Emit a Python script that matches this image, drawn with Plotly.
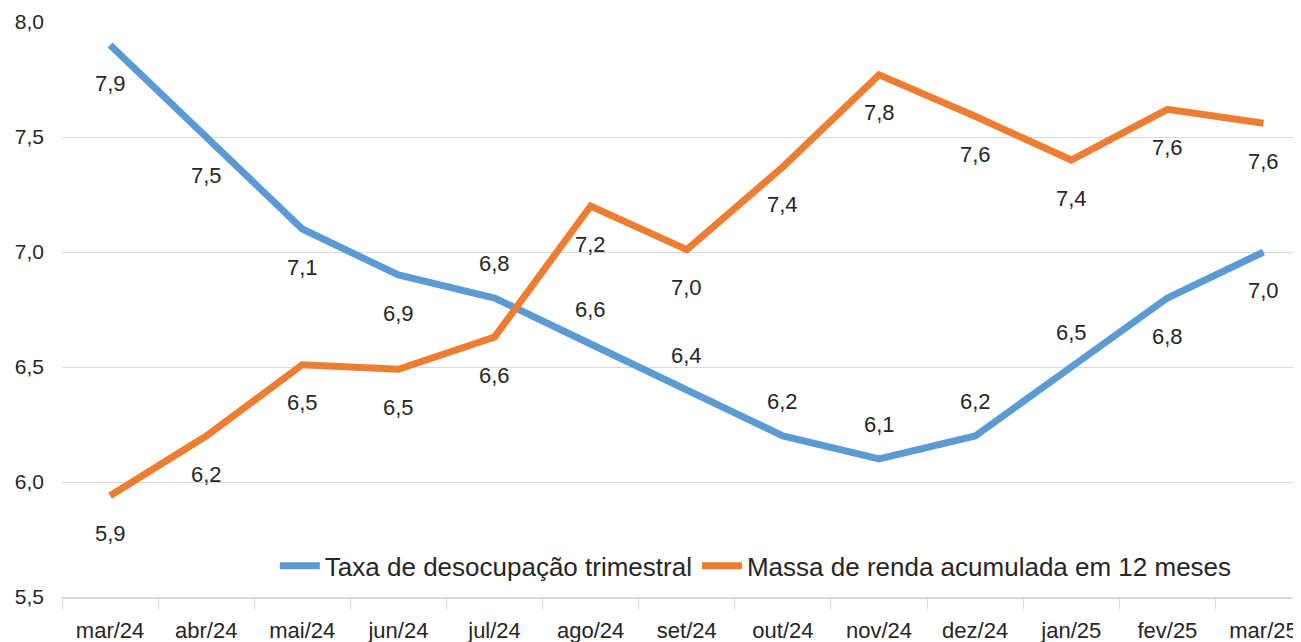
import plotly.graph_objects as go

categories = ["mar/24", "abr/24", "mai/24", "jun/24", "jul/24", "ago/24", "set/24",
              "out/24", "nov/24", "dez/24", "jan/25", "fev/25", "mar/25"]
taxa = [7.9, 7.5, 7.1, 6.9, 6.8, 6.6, 6.4, 6.2, 6.1, 6.2, 6.5, 6.8, 7.0]
massa = [5.94, 6.2, 6.51, 6.49, 6.63, 7.2, 7.01, 7.37, 7.77, 7.59, 7.4, 7.62, 7.56]
taxa_labels = ["7,9", "7,5", "7,1", "6,9", "6,8", "6,6", "6,4", "6,2", "6,1", "6,2", "6,5", "6,8", "7,0"]
massa_labels = ["5,9", "6,2", "6,5", "6,5", "6,6", "7,2", "7,0", "7,4", "7,8", "7,6", "7,4", "7,6", "7,6"]
taxa_pos = ["below"] * 4 + ["above"] * 7 + ["below"] * 2
massa_pos = ["below"] * 13
y_ticks = [5.5, 6.0, 6.5, 7.0, 7.5, 8.0]
y_ticklabels = ["5,5", "6,0", "6,5", "7,0", "7,5", "8,0"]

BLUE = "#5B9BD5"
ORANGE = "#ED7D31"
FONT = "Liberation Sans Narrow, Liberation Sans, Arial Narrow, sans-serif"
TXT = "#262626"

fig = go.Figure()
fig.add_trace(go.Scatter(x=categories, y=taxa, mode="lines", name="Taxa de desocupação trimestral",
                         line=dict(color=BLUE, width=7)))
fig.add_trace(go.Scatter(x=categories, y=massa, mode="lines", name="Massa de renda acumulada em 12 meses",
                         line=dict(color=ORANGE, width=7)))

for vals, labs, pos in ((taxa, taxa_labels, taxa_pos), (massa, massa_labels, massa_pos)):
    for c, v, t, p in zip(categories, vals, labs, pos):
        fig.add_annotation(x=c, y=v, text=t, showarrow=False,
                           yshift=(-38 if p == "below" else 35),
                           font=dict(size=22, color=TXT, family=FONT))

fig.update_layout(
    width=1293, height=634,
    margin=dict(l=54, r=0, t=14, b=45, autoexpand=False),
    paper_bgcolor="white", plot_bgcolor="white",
    font=dict(family=FONT, size=20, color=TXT),
    showlegend=True,
    legend=dict(orientation="h", x=0.56, xanchor="center", y=0.054, yanchor="middle",
                bgcolor="rgba(0,0,0,0)", font=dict(size=26, color=TXT),
                itemwidth=40, tracegroupgap=0),
)
fig.update_xaxes(type="category", showgrid=False, showline=True, linecolor="#D9D9D9", linewidth=1.5,
                 ticks="outside", tickson="boundaries", ticklen=10, tickcolor="#D9D9D9",
                 automargin=False, ticklabelstandoff=13,
                 tickfont=dict(size=22, family=FONT, color=TXT), range=[-0.5, 12.39])
fig.update_yaxes(range=[5.5, 8.0], tickvals=y_ticks, ticktext=y_ticklabels,
                 showgrid=True, gridcolor="#D9D9D9", gridwidth=1.2, zeroline=False,
                 showline=False, ticks="", ticklabelstandoff=17, automargin=False,
                 tickfont=dict(size=21, family=FONT, color=TXT))

fig.write_html("out.html")
